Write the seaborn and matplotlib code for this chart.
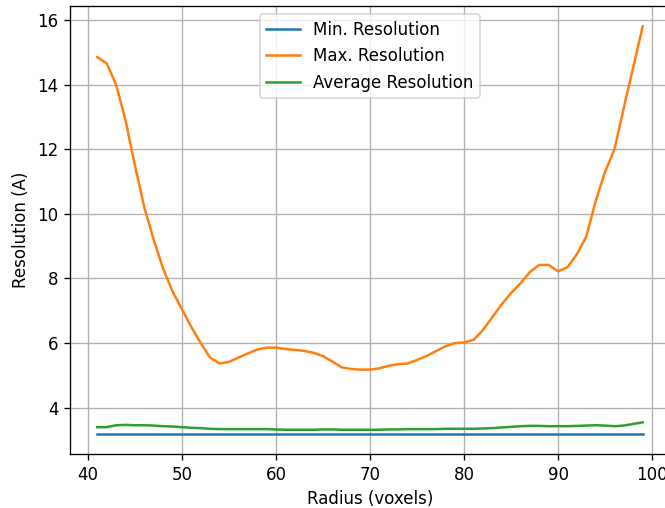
import numpy as np
import seaborn as sns
import matplotlib.pyplot as plt

# radius in voxels
radius = list(range(41, 100))

# resolution values
min_res = [3.2] * 59

max_res = [14.85, 14.65, 14.0, 12.9, 11.5, 10.2, 9.2, 8.3, 7.6, 7.05,
           6.5, 6.0, 5.55, 5.37, 5.42, 5.55, 5.68, 5.8, 5.86, 5.86,
           5.82, 5.79, 5.76, 5.7, 5.6, 5.43, 5.25, 5.2, 5.18, 5.18,
           5.22, 5.3, 5.35, 5.37, 5.48, 5.6, 5.75, 5.9, 6.0, 6.02,
           6.1, 6.4, 6.8, 7.2, 7.55, 7.85, 8.2, 8.42, 8.42, 8.22,
           8.35, 8.75, 9.3, 10.4, 11.3, 12.0, 13.3, 14.55, 15.8]

avg_res = [3.40, 3.40, 3.46, 3.47, 3.46, 3.46, 3.45, 3.43, 3.42, 3.40,
           3.38, 3.37, 3.35, 3.34, 3.34, 3.34, 3.34, 3.34, 3.34, 3.33,
           3.32, 3.32, 3.32, 3.32, 3.33, 3.33, 3.32, 3.32, 3.32, 3.32,
           3.32, 3.33, 3.33, 3.34, 3.34, 3.34, 3.34, 3.35, 3.35, 3.35,
           3.35, 3.36, 3.37, 3.39, 3.41, 3.43, 3.44, 3.44, 3.43, 3.43,
           3.43, 3.44, 3.45, 3.46, 3.45, 3.43, 3.45, 3.50, 3.55]

# reference looks like it was drawn at a higher dpi, so use 120
dpi = 120
fig = plt.figure(figsize=(665 / dpi, 508 / dpi), dpi=dpi)
# the reference is cropped on the right, so the axes run past the figure edge
ax = fig.add_axes([70 / 665, 54 / 508, 600 / 665, 448 / 508])

sns.lineplot(x=radius, y=min_res, color="C0", label="Min. Resolution", ax=ax)
sns.lineplot(x=radius, y=max_res, color="C1", label="Max. Resolution", ax=ax)
sns.lineplot(x=radius, y=avg_res, color="C2", label="Average Resolution", ax=ax)

ax.set_xlabel("Radius (voxels)")
ax.set_ylabel("Resolution (A)")
ax.grid(True)
ax.legend(loc="upper center")

fig.savefig("out.png", dpi=dpi)
